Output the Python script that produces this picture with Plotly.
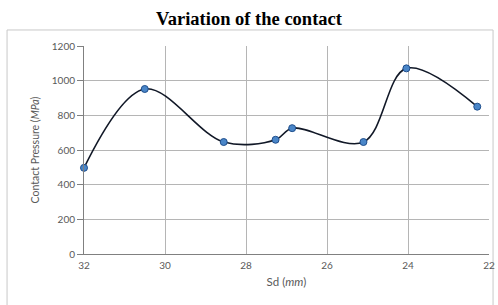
import plotly.graph_objects as go

sd_mm = [32.0, 30.5, 28.55, 27.27, 26.86, 25.1, 24.04, 22.29]
contact_pressure = [497, 952, 646, 659, 726, 646, 1071, 850]
x_ticks = [32, 30, 28, 26, 24, 22]
y_ticks = [0, 200, 400, 600, 800, 1000, 1200]

fig = go.Figure()
fig.add_trace(go.Scatter(
    x=sd_mm, y=contact_pressure, mode="lines+markers",
    line=dict(shape="spline", smoothing=1.0, color="#111827", width=1.6),
    marker=dict(size=7, color="#4a86c8", line=dict(color="#1f4e8c", width=1)),
    showlegend=False, cliponaxis=False, hoverinfo="skip",
))

tick_font = dict(family="Lato, Open Sans, sans-serif", size=10, color="#595959")
xtitle_font = dict(family="Lato, Open Sans, sans-serif", size=11.5, color="#595959")
ytitle_font = dict(family="Lato, Open Sans, sans-serif", size=10.5, color="#595959")
fig.update_layout(
    width=498, height=305,
    margin=dict(l=84, r=9, t=46, b=51),
    paper_bgcolor="white", plot_bgcolor="white",
    title=dict(text="<b>Variation of the contact</b>", x=0.5, xanchor="center",
               y=0.94, yanchor="middle",
               font=dict(family="Liberation Serif, Times New Roman, serif", size=18.5, color="black")),
    xaxis=dict(range=[32, 22], tickvals=x_ticks, showgrid=True, gridcolor="#b5b5b5", gridwidth=1,
               showline=True, linecolor="#808080", linewidth=1, ticks="", zeroline=False,
               tickfont=tick_font, automargin=False, ticklabelstandoff=2,
               ticklabeloverflow="allow",
               title=dict(text="Sd (<i>mm</i>)", font=xtitle_font, standoff=7)),
    yaxis=dict(range=[0, 1200], tickvals=y_ticks, showgrid=True, gridcolor="#b5b5b5", gridwidth=1,
               showline=True, linecolor="#808080", linewidth=1, ticks="outside", ticklen=6,
               tickcolor="#808080", zeroline=False, tickfont=tick_font, automargin=False,
               title=dict(text="Contact Pressure (<i>MPa</i>)", font=ytitle_font, standoff=10)),
)
fig.add_shape(type="rect", xref="paper", yref="paper", x0=-0.19, x1=1.01, y0=-0.35, y1=1.077,
              line=dict(color="#c8c8c8", width=1), fillcolor="rgba(0,0,0,0)", layer="below")
fig.write_html("out.html", config={"displayModeBar": False},
               post_script="document.body.style.margin='0';document.body.style.overflow='hidden';")
